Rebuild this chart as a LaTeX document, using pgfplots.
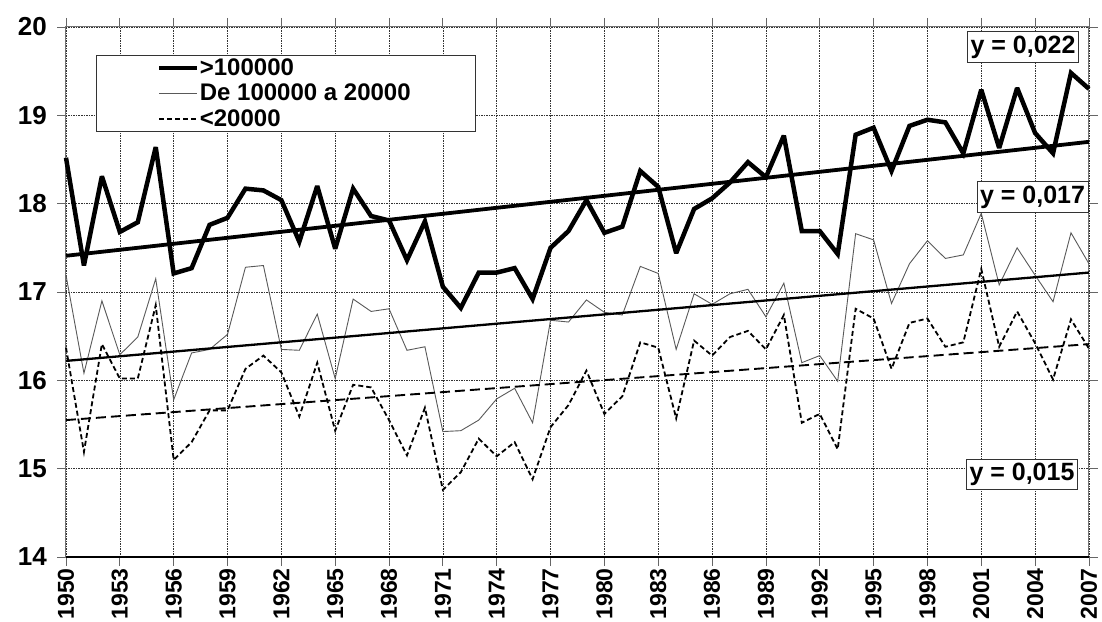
\documentclass[border=0pt]{standalone}
\usepackage{pgfplots}
\pgfplotsset{compat=1.18}
\usepackage{fontspec}
\setmainfont{Liberation Sans}

\pgfplotstableread{
year big mid small
1950 18.52 17.19 16.37
1951 17.30 16.08 15.19
1952 18.31 16.90 16.41
1953 17.68 16.29 16.02
1954 17.79 16.49 16.02
1955 18.64 17.15 16.85
1956 17.21 15.78 15.10
1957 17.27 16.31 15.30
1958 17.76 16.35 15.66
1959 17.84 16.52 15.66
1960 18.17 17.28 16.13
1961 18.15 17.30 16.28
1962 18.04 16.35 16.09
1963 17.57 16.34 15.59
1964 18.20 16.75 16.20
1965 17.49 16.02 15.43
1966 18.17 16.92 15.95
1967 17.86 16.78 15.92
1968 17.81 16.81 15.55
1969 17.36 16.34 15.15
1970 17.80 16.38 15.69
1971 17.06 15.42 14.76
1972 16.82 15.43 14.96
1973 17.22 15.55 15.34
1974 17.22 15.79 15.14
1975 17.27 15.91 15.30
1976 16.92 15.52 14.88
1977 17.50 16.68 15.47
1978 17.69 16.66 15.72
1979 18.04 16.91 16.11
1980 17.67 16.77 15.62
1981 17.74 16.74 15.82
1982 18.37 17.29 16.43
1983 18.19 17.21 16.37
1984 17.44 16.35 15.57
1985 17.94 16.98 16.45
1986 18.06 16.86 16.28
1987 18.24 16.98 16.49
1988 18.47 17.03 16.56
1989 18.30 16.72 16.35
1990 18.77 17.10 16.74
1991 17.69 16.20 15.52
1992 17.69 16.28 15.62
1993 17.43 15.99 15.22
1994 18.78 17.66 16.81
1995 18.86 17.59 16.70
1996 18.37 16.87 16.13
1997 18.88 17.32 16.65
1998 18.95 17.58 16.70
1999 18.92 17.38 16.38
2000 18.57 17.42 16.43
2001 19.29 17.89 17.26
2002 18.63 17.08 16.38
2003 19.31 17.50 16.78
2004 18.80 17.19 16.42
2005 18.57 16.89 16.01
2006 19.48 17.67 16.69
2007 19.30 17.32 16.36
}\data

\pgfplotstableread{
year big mid small
1950 17.41 16.22 15.55
2007 18.70 17.22 16.41
}\trend

\begin{document}
\begin{tikzpicture}
\useasboundingbox (-66pt,-64pt) rectangle (1036pt,557pt);
\begin{axis}[
  scale only axis,
  width=1023pt, height=530pt,
  xmin=1950, xmax=2007, ymin=14, ymax=20,
  xtick={1950,1953,...,2007},
  ytick={14,15,...,20},
  /pgf/number format/assume math mode=true,
  /pgf/number format/1000 sep={},
  x tick label style={rotate=90, anchor=east, inner xsep=2pt, inner ysep=0pt, font=\fontsize{23}{23}\selectfont\bfseries},
  y tick label style={inner xsep=10pt, font=\fontsize{26}{26}\selectfont\bfseries},
  tick align=outside,
  major tick length=9pt,
  tick style={black!60, line width=0.8pt},
  xmajorgrids, ymajorgrids,
  grid style={black!80, line width=0.5pt, dash pattern=on 1.5pt off 1pt},
  axis line style={black!55, line width=1pt},
  legend style={at={(0.0293,0.947)}, anchor=north west, draw=black!80, line width=0.8pt,
    inner xsep=63pt, inner ysep=2pt, row sep=4pt,
    nodes={inner xsep=1.5pt, inner ysep=1.5pt},
    font=\fontsize{24}{26}\selectfont\bfseries, fill=white},
  legend cell align=left,
  legend image code/.code={\draw[#1, overlay] (0pt,0pt) -- (38pt,0pt); \path[draw=none, fill=none] (0pt,-4pt) -- (39pt,4pt);},
  clip=false,
]
\addplot[black, line width=4.5pt, line join=miter, miter limit=3] table[x=year, y=big] {\data};
\addlegendentry{>100000}
\addplot[black!65, line width=0.9pt] table[x=year, y=mid] {\data};
\addlegendentry{De 100000 a 20000}
\addplot[black, line width=1.8pt, dash pattern=on 5pt off 3pt] table[x=year, y=small] {\data};
\addlegendentry{<20000}
\addplot[black, line width=3.8pt, forget plot] table[x=year, y=big] {\trend};
\addplot[black, line width=2.3pt, forget plot] table[x=year, y=mid] {\trend};
\addplot[black, line width=1.9pt, dash pattern=on 10pt off 5pt, forget plot] table[x=year, y=small] {\trend};
\draw[black, line width=1.2pt] (rel axis cs:0,0) -- (rel axis cs:1,0);
\node[draw=black!80, line width=1pt, fill=white, inner xsep=3pt, inner ysep=4pt, font=\fontsize{25}{25}\selectfont\bfseries] at (axis cs:2003.33,19.774) {y = 0,022};
\node[draw=black!80, line width=1pt, fill=white, inner xsep=3pt, inner ysep=4pt, font=\fontsize{25}{25}\selectfont\bfseries] at (axis cs:2003.86,18.075) {y = 0,017};
\node[draw=black!80, line width=1pt, fill=white, inner xsep=3pt, inner ysep=4pt, font=\fontsize{25}{25}\selectfont\bfseries] at (axis cs:2003.27,14.934) {y = 0,015};
\end{axis}
\end{tikzpicture}
\end{document}
